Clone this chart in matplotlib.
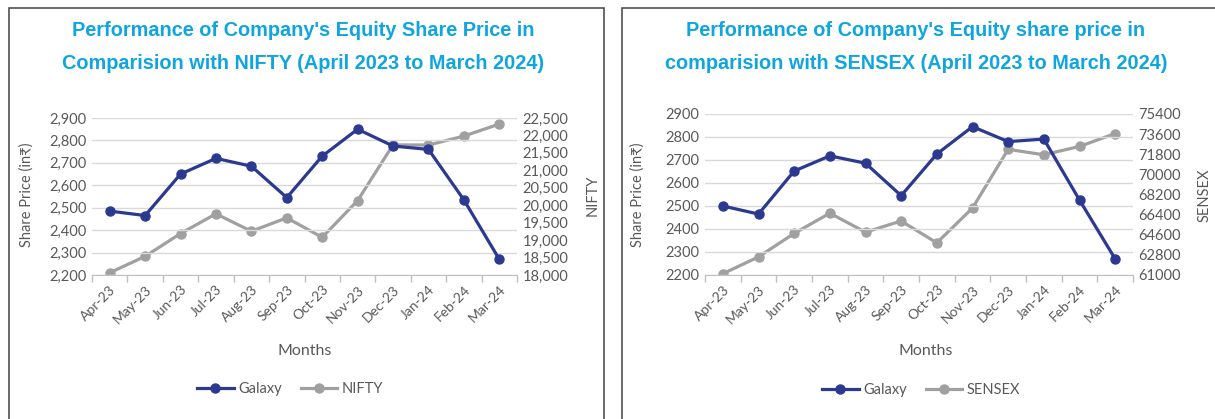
import matplotlib.pyplot as plt
from matplotlib.patches import Rectangle
from matplotlib.ticker import FuncFormatter, MultipleLocator

months = ["Apr-23", "May-23", "Jun-23", "Jul-23", "Aug-23", "Sep-23",
          "Oct-23", "Nov-23", "Dec-23", "Jan-24", "Feb-24", "Mar-24"]

# left chart (vs NIFTY)
galaxy_nifty_chart = [2485, 2465, 2650, 2720, 2685, 2545, 2730, 2850, 2775, 2760, 2535, 2270]
nifty = [18065, 18534, 19189, 19754, 19254, 19638, 19079, 20133, 21731, 21725, 21982, 22326]
nifty_ticks = [18000, 18500, 19000, 19500, 20000, 20500, 21000, 21500, 22000, 22500]

# right chart (vs SENSEX)
galaxy_sensex_chart = [2500, 2465, 2652, 2718, 2686, 2545, 2726, 2845, 2780, 2791, 2526, 2270]
sensex = [61112, 62622, 64719, 66528, 64831, 65828, 63875, 66988, 72240, 71752, 72500, 73651]
sensex_ticks = [61000, 62800, 64600, 66400, 68200, 70000, 71800, 73600, 75400]

W, H = 1215, 419
NAVY = "#2B3990"
GRAY = "#A0A0A0"
TXT = "#595959"
TITLE = "#0FA5DF"
FONT = ["Lato", "DejaVu Sans"]

plt.rcParams['font.family'] = FONT

fig = plt.figure(figsize=(W / 100, H / 100), dpi=100)


def px_box(x0, y0, x1, y1):
    # pixel coords (top-left origin) -> figure fraction rect
    return [x0 / W, 1 - y1 / H, (x1 - x0) / W, (y1 - y0) / H]


def panel(x0, x1):
    fig.patches.append(Rectangle((x0 / W, -0.1), (x1 - x0) / W, 1 - 8 / H + 0.1,
                                 transform=fig.transFigure, fill=False,
                                 edgecolor="#505050", linewidth=1.2))


def draw_chart(box, galaxy, index, index_name, left_lim, right_ticks, comma, title,
               ylabel_x, right_label_x, title_cx, months_cx, legend_cx, legend_y):
    ax = fig.add_axes(px_box(*box))
    x = range(len(months))
    l1, = ax.plot(x, galaxy, color=NAVY, lw=2.3, marker="o", ms=6.5, label="Galaxy", zorder=3)
    ax2 = ax.twinx()
    l2, = ax2.plot(x, index, color=GRAY, lw=2.3, marker="o", ms=6.5, label=index_name, zorder=2)
    ax.set_zorder(ax2.get_zorder() + 1)
    ax.patch.set_visible(False)

    ax.set_xlim(-0.5, len(months) - 0.5)
    ax.set_ylim(*left_lim)
    ax2.set_ylim(right_ticks[0], right_ticks[-1])
    ax.yaxis.set_major_locator(MultipleLocator(100))
    ax2.set_yticks(right_ticks)
    if comma:
        fmt = FuncFormatter(lambda v, p: f"{v:,.0f}")
    else:
        fmt = FuncFormatter(lambda v, p: f"{v:.0f}")
    ax.yaxis.set_major_formatter(fmt)
    ax2.yaxis.set_major_formatter(fmt)

    ax.set_xticks([i - 0.5 for i in range(len(months) + 1)], minor=False)
    ax.set_xticklabels([])
    ax.set_xticks(list(x), minor=True)
    ax.set_xticklabels(months, minor=True, rotation=45, ha="right", rotation_mode="anchor",
                       fontsize=10, color=TXT)
    ax.tick_params(axis="x", which="major", length=5, color="#BFBFBF", width=1)
    ax.tick_params(axis="x", which="minor", length=0, pad=6)

    ax.grid(axis="y", color="#D9D9D9", lw=1)
    for a in (ax, ax2):
        for s in a.spines.values():
            s.set_visible(False)
        a.tick_params(axis="y", length=0, labelsize=10.5, labelcolor=TXT, pad=4)
    ax.spines["bottom"].set_visible(True)
    ax.spines["bottom"].set_color("#BFBFBF")

    fig.text(ylabel_x / W, 1 - 195 / H, "Share Price (in₹)", rotation=90, ha="center", va="center",
             fontsize=10.5, color=TXT)
    fig.text(right_label_x / W, 1 - 195 / H, index_name, rotation=90, ha="center", va="center",
             fontsize=10.5, color=TXT)
    fig.text(months_cx / W, 1 - 351 / H, "Months", ha="center", va="center", fontsize=11.5, color=TXT)
    fig.text(title_cx / W, 1 - 47 / H, title, ha="center", va="center", fontsize=14.3,
             fontweight="bold", color=TITLE, family=["Liberation Sans", "DejaVu Sans"],
             linespacing=1.92)
    fig.legend(handles=[l1, l2], loc="center", bbox_to_anchor=(legend_cx / W, 1 - legend_y / H),
               ncol=2, frameon=False, fontsize=10.5, labelcolor=TXT, handlelength=2.5,
               columnspacing=1.3, handletextpad=0.3)


panel(9, 604)
panel(622, 1260)

draw_chart((92, 118, 517, 275), galaxy_nifty_chart, nifty, "NIFTY", (2200, 2900), nifty_ticks, True,
           "Performance of Company's Equity Share Price in\nComparision with NIFTY (April 2023 to March 2024)",
           27, 593, 303, 305, 290, 389)
draw_chart((705, 114, 1133, 275), galaxy_sensex_chart, sensex, "SENSEX", (2200, 2900), sensex_ticks, False,
           "Performance of Company's Equity share price in\ncomparision with SENSEX (April 2023 to March 2024)",
           638, 1205, 916, 926, 921, 390)

fig.savefig("out.png", dpi=100)
